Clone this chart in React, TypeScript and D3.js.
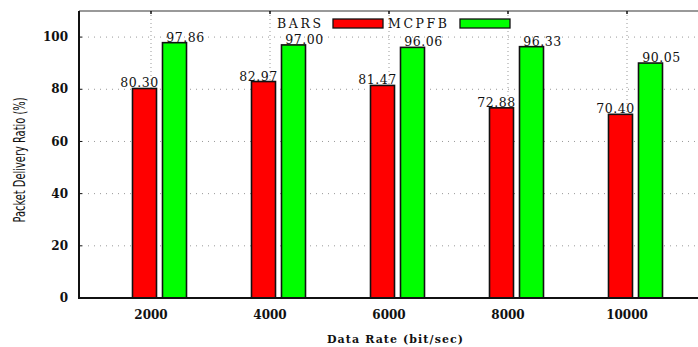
import React from "react";
import * as d3 from "d3";

const categories = ["2000", "4000", "6000", "8000", "10000"];
const seriesNames = ["BARS", "MCPFB"];
const barsValues = [80.3, 82.97, 81.47, 72.88, 70.4];
const mcpfbValues = [97.86, 97.0, 96.06, 96.33, 90.05];
const yTicks = [0, 20, 40, 60, 80, 100];
const colors = ["#ff0000", "#00ff00"];

const W = 698;
const H = 347;
const left = 79;
const top = 11;
const bottom = 298;

export default function App() {
  const x = d3.scaleBand<string>().domain(categories).range([91.5, 686.5]).paddingInner(0).paddingOuter(0);
  const y = d3.scaleLinear().domain([0, 110]).range([bottom, top]);
  const sub = d3.scaleBand<string>().domain(seriesNames).range([-18.5, 35.5]).paddingInner(0.2).paddingOuter(0);
  const center = (c: string) => (x(c) as number) + x.bandwidth() / 2;
  const series = [barsValues, mcpfbValues];
  const labelOffset = [-5, 11];
  const serif = "'DejaVu Serif', 'Liberation Serif', serif";

  return (
    <svg width={W} height={H} style={{ position: "absolute", left: 0, top: 0, background: "#fff" }}>
      <rect x={0} y={0} width={W} height={H} fill="#fff" />
      {/* horizontal grid */}
      {yTicks.filter((t) => t > 0).map((t) => (
        <line key={"hg" + t} x1={left + 3} x2={W} y1={y(t)} y2={y(t)} stroke="#999" strokeWidth={1} strokeDasharray="1,5" />
      ))}
      {/* vertical grid */}
      {categories.map((c) => (
        <line key={"vg" + c} x1={center(c)} x2={center(c)} y1={top} y2={bottom} stroke="#999" strokeWidth={1} strokeDasharray="1,3" />
      ))}
      {/* bars */}
      {categories.map((c, i) =>
        series.map((vals, s) => (
          <rect
            key={c + s}
            x={center(c) + (sub(seriesNames[s]) as number)}
            y={y(vals[i])}
            width={sub.bandwidth()}
            height={bottom - y(vals[i])}
            fill={colors[s]}
            stroke="#111"
            strokeWidth={1.6}
          />
        ))
      )}
      {/* value labels */}
      {categories.map((c, i) =>
        series.map((vals, s) => (
          <text
            key={"l" + c + s}
            x={center(c) + (sub(seriesNames[s]) as number) + sub.bandwidth() / 2 + labelOffset[s]}
            y={y(vals[i]) - 1}
            textAnchor="middle"
            fontFamily={serif}
            fontSize={12.5}
            letterSpacing={0.5}
            fill="#111"
          >
            {vals[i].toFixed(2)}
          </text>
        ))
      )}
      {/* top border */}
      <line x1={left} x2={W} y1={top} y2={top} stroke="#777" strokeWidth={1.5} />
      {/* top ticks */}
      {categories.map((c) => (
        <line key={"tt" + c} x1={center(c)} x2={center(c)} y1={top} y2={top + 3} stroke="#111" strokeWidth={1.5} />
      ))}
      {/* axes */}
      <line x1={left} x2={left} y1={top} y2={bottom + 1} stroke="#111" strokeWidth={2} />
      <line x1={left} x2={W} y1={bottom} y2={bottom} stroke="#111" strokeWidth={2} />
      {/* y ticks */}
      {yTicks.map((t) => (
        <g key={"yt" + t}>
          <line x1={left} x2={left + 3} y1={y(t)} y2={y(t)} stroke="#111" strokeWidth={1} />
          <text x={68} y={y(t)} dy="0.35em" textAnchor="end" fontFamily={serif} fontWeight="bold" fontSize={12} fill="#111">
            {t}
          </text>
        </g>
      ))}
      {/* x tick labels */}
      {categories.map((c) => (
        <text key={"xt" + c} x={center(c)} y={315} dy="0.35em" textAnchor="middle" fontFamily={serif} fontWeight="bold" fontSize={12} fill="#111">
          {c}
        </text>
      ))}
      {/* axis titles */}
      <text x={395} y={339} dy="0.35em" textAnchor="middle" fontFamily={serif} fontWeight="bold" fontSize={11} textLength={136} lengthAdjust="spacing" fill="#111">
        Data Rate (bit/sec)
      </text>
      <text
        transform="translate(20,160) rotate(-90)"
        textAnchor="middle"
        dy="0.35em"
        fontFamily="'Liberation Sans Narrow', 'DejaVu Sans Condensed', 'DejaVu Sans', sans-serif"
        fontStretch="condensed"
        fontSize={15}
        textLength={125}
        lengthAdjust="spacingAndGlyphs"
        fill="#111"
      >
        Packet Delivery Ratio (%)
      </text>
      {/* legend */}
      <text x={277} y={23.5} dy="0.35em" fontFamily={serif} fontSize={12.5} letterSpacing={2.6} fill="#111">
        BARS
      </text>
      <rect x={333} y={19} width={50} height={9} fill={colors[0]} stroke="#111" strokeWidth={1.3} />
      <text x={388} y={23.5} dy="0.35em" fontFamily={serif} fontSize={12.5} letterSpacing={2.6} fill="#111">
        MCPFB
      </text>
      <rect x={460} y={19} width={50} height={9} fill={colors[1]} stroke="#111" strokeWidth={1.3} />
    </svg>
  );
}
